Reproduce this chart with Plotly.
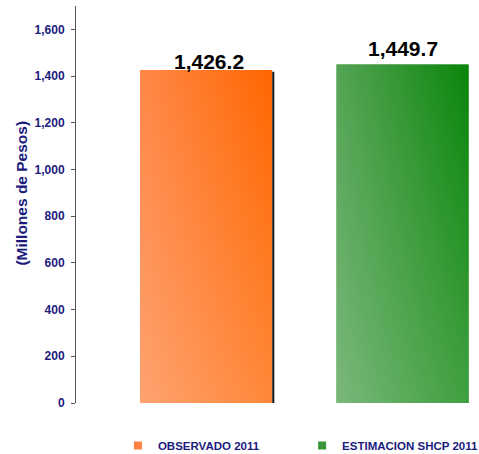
import plotly.graph_objects as go

# ---- data ----
categories = ["OBSERVADO 2011", "ESTIMACION SHCP 2011"]
values = [1426.2, 1449.7]
value_labels = ["1,426.2", "1,449.7"]
y_tickvals = [0, 200, 400, 600, 800, 1000, 1200, 1400, 1600]
y_ticktext = ["0", "200", "400", "600", "800", "1,000", "1,200", "1,400", "1,600"]

# ---- style ----
x_pos = [0, 1]
bar_width = 0.672
base_colors = ["#FF7A30", "#3E973E"]
legend_colors = ["#FF8040", "#3A953A"]
grad_left = ["#FF8848", "#55A455"]
grad_right = ["#FF6600", "#0A850A"]
label_shift = [-5, 2]
label_dx = [3, 0]
legend_x = [0.104, 0.561]
legend_names = ["legend", "legend2"]
NAVY = "#1B1B7E"
FONT = "Liberation Sans, Arial, sans-serif"

fig = go.Figure()

for i, cat in enumerate(categories):
    fig.add_trace(go.Bar(
        x=[x_pos[i]], y=[values[i]], width=bar_width, name=cat,
        marker=dict(color=base_colors[i], line=dict(width=0)),
        showlegend=False,
    ))

for i, cat in enumerate(categories):
    x0 = x_pos[i] - bar_width / 2
    x1 = x_pos[i] + bar_width / 2
    xs = [x0, x1, x1, x0, x0]
    ys = [0, 0, values[i], values[i], 0]
    fig.add_trace(go.Scatter(
        x=xs, y=ys, mode="lines", fill="toself", line=dict(width=0),
        fillgradient=dict(type="horizontal",
                          colorscale=[[0, grad_left[i]], [1, grad_right[i]]]),
        showlegend=False, hoverinfo="skip",
    ))
    fig.add_trace(go.Scatter(
        x=xs, y=ys, mode="lines", fill="toself", line=dict(width=0),
        fillgradient=dict(type="vertical",
                          colorscale=[[0, "rgba(255,255,255,0.22)"],
                                      [1, "rgba(255,255,255,0)"]]),
        showlegend=False, hoverinfo="skip",
    ))

# legend entries
for i, cat in enumerate(categories):
    fig.add_trace(go.Scatter(
        x=[None], y=[None], mode="markers", name=cat,
        marker=dict(symbol="square", size=8, color=legend_colors[i]),
        showlegend=True, legend=legend_names[i],
    ))

# shadow edge on first bar
sx = x_pos[0] + bar_width / 2 + 0.006
fig.add_trace(go.Scatter(
    x=[sx, sx], y=[0, values[0] - 8], mode="lines",
    line=dict(color="#111111", width=2), showlegend=False, hoverinfo="skip",
))

for i in range(len(categories)):
    fig.add_annotation(
        x=x_pos[i], y=values[i], text=value_labels[i], showarrow=False,
        xref="x", yref="y", yanchor="bottom", yshift=label_shift[i], xshift=label_dx[i],
        font=dict(family=FONT, size=21, color="#000000", weight="bold"),
    )

fig.add_annotation(
    text="(Millones de Pesos)", textangle=-90, showarrow=False,
    xref="paper", yref="paper", x=-0.134, y=0.53, xanchor="center", yanchor="middle",
    font=dict(family=FONT, size=15.5, color=NAVY, weight="bold"),
)

legend_common = dict(
    orientation="h", y=-0.107, xanchor="left", yanchor="middle",
    font=dict(family=FONT, size=11.5, color=NAVY, weight="bold"),
    itemwidth=30, itemclick=False, bgcolor="rgba(0,0,0,0)",
)

fig.update_layout(
    width=479, height=454,
    margin=dict(l=76, r=0, t=6, b=51, autoexpand=False),
    paper_bgcolor="white", plot_bgcolor="white",
    barmode="overlay",
    showlegend=True,
    legend=dict(x=legend_x[0], **legend_common),
    legend2=dict(x=legend_x[1], **legend_common),
    xaxis=dict(
        range=[-0.662, 1.389], showticklabels=False, showgrid=False,
        zeroline=False, showline=False, ticks="",
    ),
    yaxis=dict(
        range=[0, 1700], tickvals=y_tickvals, ticktext=y_ticktext,
        showgrid=False, zeroline=False, showline=True, linecolor="#555555",
        linewidth=1, ticks="outside", ticklen=4, tickcolor="#555555",
        ticklabelstandoff=4,
        tickfont=dict(family=FONT, size=12, color=NAVY, weight="bold"),
    ),
)

fig.write_html(
    "out.html",
    config={"displayModeBar": False},
    post_script="document.body.style.margin='0';document.body.style.overflow='hidden';",
)
